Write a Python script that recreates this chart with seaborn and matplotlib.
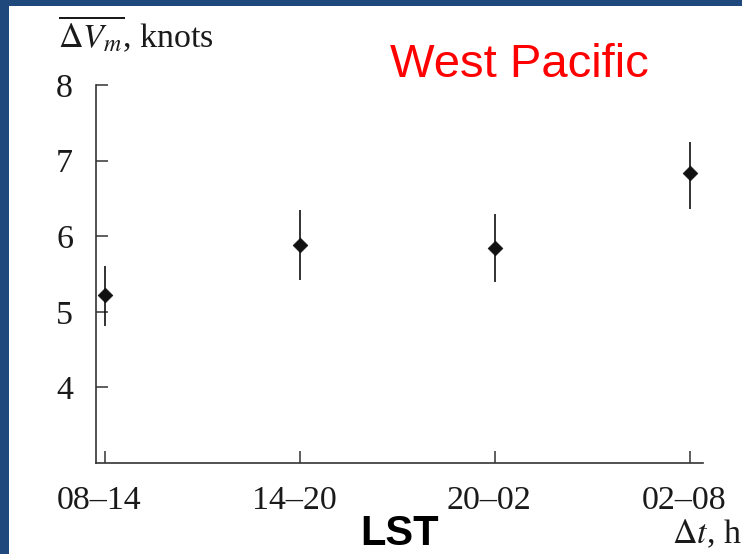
import matplotlib
matplotlib.use("Agg")
import matplotlib.pyplot as plt
import matplotlib.transforms as mtrans
import seaborn as sns
from matplotlib.patches import Rectangle

# ---- data ----
categories = ["08\u201314", "14\u201320", "20\u201302", "02\u201308"]
mean_dv = [5.22, 5.88, 5.84, 6.83]
err_low = [4.81, 5.42, 5.39, 6.36]
err_high = [5.60, 6.34, 6.30, 7.25]
y_ticks = [4, 5, 6, 7, 8]

sns.set_style("ticks")
plt.rcParams["font.family"] = ["Liberation Serif", "DejaVu Serif"]
plt.rcParams["mathtext.fontset"] = "stix"

W, H = 742, 554
fig = plt.figure(figsize=(W / 100, H / 100), dpi=100)
fig.patch.set_facecolor("#1F497D")
fig.patches.append(Rectangle((9 / W, 0), 1, (H - 6) / H, transform=fig.transFigure,
                             facecolor="white", edgecolor="none", zorder=-10))

ax = fig.add_axes([96 / W, (H - 463) / H, 607 / W, (463 - 85) / H])
ax.set_zorder(2)
ax.set_facecolor("none")

ax.vlines(categories, err_low, err_high, color="#111111", linewidth=1.2, zorder=2)
sns.scatterplot(x=categories, y=mean_dv, marker="D", s=56, color="#111111",
                edgecolor="#111111", linewidth=0.5, ax=ax, zorder=3)

ax.set_xlim(-0.046, 3.067)
ax.set_ylim(3, 8)
ax.set_yticks(y_ticks)
ax.set_yticklabels([str(v) for v in y_ticks])

sns.despine(ax=ax)
for s in ["left", "bottom"]:
    ax.spines[s].set_color("#333333")
    ax.spines[s].set_linewidth(1.2)

ax.tick_params(axis="both", direction="in", length=8.6, width=1.1, color="#333333",
               labelsize=24.5, labelcolor="#1a1a1a", pad=16.5)
ax.set_xlabel("")
ax.set_ylabel("")

shift = mtrans.ScaledTranslation(-6 / 100, 0, fig.dpi_scale_trans)
for lab in ax.get_xticklabels():
    lab.set_transform(lab.get_transform() + shift)

def fx(px):
    return px / W

def fy(py):
    return (H - py) / H

fig.text(fx(58), fy(47), r"$\overline{\Delta V_m}$, knots", fontsize=24.5,
         color="#1a1a1a", ha="left", va="baseline")
fig.text(fx(672), fy(543), r"$\Delta t$, h", fontsize=24.5, color="#1a1a1a",
         ha="left", va="baseline")
fig.text(fx(400), fy(545), "LST", fontsize=30, fontweight="bold",
         family=["Liberation Sans", "DejaVu Sans"], color="black",
         ha="center", va="baseline")
fig.text(fx(390), fy(77), "West Pacific", fontsize=34,
         family=["Liberation Sans", "DejaVu Sans"], color="#FF0000",
         ha="left", va="baseline")

fig.savefig("out.png", dpi=100)
